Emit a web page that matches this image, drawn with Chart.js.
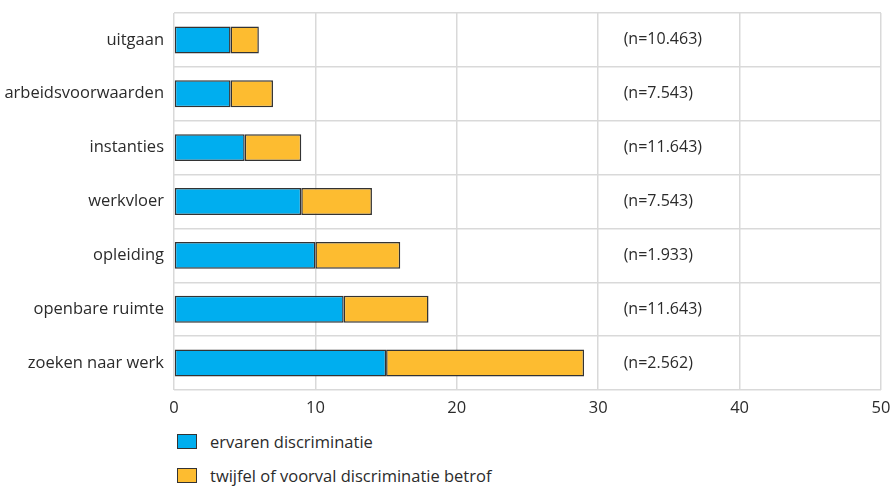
<!DOCTYPE html>
<html>
<head>
<meta charset="utf-8">
<script src="https://cdn.jsdelivr.net/npm/chart.js@4.4.1/dist/chart.umd.min.js"></script>
<style>
  html, body { margin: 0; padding: 0; background: #fff; }
  #wrap { position: relative; width: 893px; height: 486px; }
  #legend { position: absolute; left: 177px; top: 430px; font-family: "Open Sans", sans-serif; font-size: 16.5px; color: #2b2b2b; }
  .item { display: flex; align-items: center; height: 22px; margin-bottom: 12px; }
  .box { width: 18px; height: 13px; border: 1px solid #333; margin-right: 13px; }
</style>
</head>
<body>
<div id="wrap">
  <canvas id="chart" width="893" height="420"></canvas>
  <div id="legend"></div>
</div>
<script>
const categories = ["uitgaan", "arbeidsvoorwaarden", "instanties", "werkvloer", "opleiding", "openbare ruimte", "zoeken naar werk"];
const ervaren = [4, 4, 5, 9, 10, 12, 15];
const twijfel = [2, 3, 4, 5, 6, 6, 14];
const nLabels = ["(n=10.463)", "(n=7.543)", "(n=11.643)", "(n=7.543)", "(n=1.933)", "(n=11.643)", "(n=2.562)"];
const seriesNames = ["ervaren discriminatie", "twijfel of voorval discriminatie betrof"];
const colors = ["#00AEEF", "#FDBC30"];

const font = { family: "'Open Sans', sans-serif", size: 16.5 };

// draws the (n=...) labels right of the bars
const nLabelPlugin = {
  id: "nLabels",
  afterDatasetsDraw(chart) {
    const c = chart.ctx;
    const x = chart.scales.x.getPixelForValue(31.8);
    c.save();
    c.font = "16px 'Open Sans', sans-serif";
    c.fillStyle = "#2b2b2b";
    c.textBaseline = "middle";
    c.textAlign = "left";
    nLabels.forEach((t, i) => {
      c.fillText(t, x, chart.scales.y.getPixelForValue(i));
    });
    c.restore();
  },
};

new Chart(document.getElementById("chart"), {
  type: "bar",
  data: {
    labels: categories,
    datasets: [
      { label: seriesNames[0], data: ervaren, backgroundColor: colors[0] },
      { label: seriesNames[1], data: twijfel, backgroundColor: colors[1] },
    ],
  },
  options: {
    indexAxis: "y",
    responsive: false,
    animation: false,
    layout: { padding: { top: 13, right: 0, left: 0, bottom: 0 } },
    datasets: {
      bar: {
        borderColor: "#333",
        borderWidth: 1.5,
        borderSkipped: false,
        categoryPercentage: 1,
        barPercentage: 0.5,
      },
    },
    scales: {
      x: {
        stacked: true,
        min: 0,
        max: 50,
        ticks: { stepSize: 10, color: "#2b2b2b", font: font, padding: 8 },
        grid: { color: "#d9d9d9", lineWidth: 1.5, drawTicks: false },
        border: { display: false },
        afterFit: (s) => { s.height = 30; s.paddingLeft = 0; s.paddingRight = 12; },
      },
      y: {
        stacked: true,
        ticks: { color: "#2b2b2b", font: font, padding: 10 },
        grid: { color: "#d9d9d9", lineWidth: 1.5, drawTicks: false, offset: true },
        border: { display: false },
        afterFit: (s) => { s.width = 174; s.paddingTop = 0; s.paddingBottom = 0; },
      },
    },
    plugins: {
      legend: { display: false },
      tooltip: { enabled: false },
    },
  },
  plugins: [nLabelPlugin],
});

const legend = document.getElementById("legend");
seriesNames.forEach((name, i) => {
  const item = document.createElement("div");
  item.className = "item";
  item.innerHTML = `<span class="box" style="background:${colors[i]}"></span><span>${name}</span>`;
  legend.appendChild(item);
});
</script>
</body>
</html>
